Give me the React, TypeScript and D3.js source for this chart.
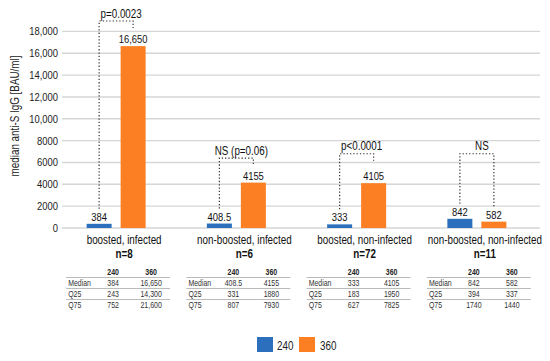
import React from "react";
import * as d3 from "d3";

const categories = ["boosted, infected", "non-boosted, infected", "boosted, non-infected", "non-boosted, non-infected"];
const nLabels = ["n=8", "n=6", "n=72", "n=11"];
const seriesNames = ["240", "360"];
const median240 = [384, 408.5, 333, 842];
const median360 = [16650, 4155, 4105, 582];
const median240Text = ["384", "408.5", "333", "842"];
const median360Text = ["16,650", "4155", "4105", "582"];
const q25_240 = ["243", "331", "183", "394"];
const q25_360 = ["14,300", "1880", "1950", "337"];
const q75_240 = ["752", "807", "627", "1740"];
const q75_360 = ["21,600", "7930", "7825", "1440"];
const pLabels = ["p=0.0023", "NS (p=0.06)", "p<0.0001", "NS"];
const bracketLevels = [18950, 6400, 6800, 6800];
const rightToLabel = [false, false, false, true];
const yTicks = [0, 2000, 4000, 6000, 8000, 10000, 12000, 14000, 16000, 18000];
const yTitle = "median anti-S IgG [BAU/ml]";

const BLUE = "#2b6fbd";
const ORANGE = "#fd7f23";
const FONT = "'Liberation Sans', Arial, sans-serif";
const NARROW = 0.82;

type TProps = {
  x: number;
  y: number;
  size: number;
  anchor?: "start" | "middle" | "end";
  bold?: boolean;
  fill?: string;
  rotate?: number;
  dy?: string;
  children: React.ReactNode;
};

function NText({ x, y, size, anchor = "start", bold, fill = "#111", rotate, dy, children }: TProps) {
  const tr = rotate ? `translate(${x},${y}) rotate(${rotate}) scale(${NARROW},1)` : `translate(${x},${y}) scale(${NARROW},1)`;
  return (
    <text transform={tr} dy={dy} textAnchor={anchor} fontSize={size} fontWeight={bold ? "bold" : "normal"} fill={fill}>
      {children}
    </text>
  );
}

export default function App() {
  const W = 550, H = 361;
  const y = d3.scaleLinear().domain([0, 18000]).range([228, 31.4]);
  const x = d3.scaleBand<string>().domain(categories).range([56, 537]);
  const inner = d3.scaleBand<string>().domain(seriesNames).range([0, 59]).paddingInner(9 / 34);
  const fmt = (v: number) => (v >= 10000 ? d3.format(",")(v) : String(v));
  const colors = [BLUE, ORANGE];

  return (
    <div style={{ position: "absolute", left: 0, top: 0 }}>
      <svg width={W} height={H} style={{ display: "block", fontFamily: FONT }}>
        <rect width={W} height={H} fill="#fff" />
        {yTicks.map((t) => (
          <g key={t}>
            <line x1={62} x2={540} y1={y(t)} y2={y(t)} stroke="#d6d6d6" strokeWidth={1.4} />
            <NText x={58} y={y(t)} dy="0.35em" anchor="end" size={11.5} fill="#222">{fmt(t)}</NText>
          </g>
        ))}
        <NText x={19} y={116} rotate={-90} anchor="middle" size={12} fill="#222">{yTitle}</NText>
        {categories.map((c, i) => {
          const c0 = (x(c) as number) + x.bandwidth() / 2;
          const gx = c0 - 29.5;
          const vals = [median240[i], median360[i]];
          const txts = [median240Text[i], median360Text[i]];
          const bx = seriesNames.map((s) => gx + (inner(s) as number));
          const bw = inner.bandwidth();
          const labelBase = vals.map((v) => y(v) - 3);
          const by = y(bracketLevels[i]);
          const lx = bx[0] + bw / 2;
          const rx = bx[1] + bw / 2;
          const rEnd = rightToLabel[i] ? labelBase[1] - 11 : by + 7;
          const tl = c0 - 50;
          const rowsY = [275, 286, 297, 308];
          return (
            <g key={c}>
              {vals.map((v, k) => (
                <rect key={k} x={bx[k]} y={y(v)} width={bw} height={y(0) - y(v)} fill={colors[k]} />
              ))}
              {txts.map((t, k) => (
                <NText key={k} x={bx[k] + bw / 2} y={labelBase[k]} anchor="middle" size={11.5}>{t}</NText>
              ))}
              <path
                d={`M${lx},${labelBase[0] - 12}V${by}H${rx}V${rEnd}`}
                fill="none"
                stroke="#333"
                strokeWidth={1.2}
                strokeDasharray="1.3,2"
              />
              <NText x={(lx + rx) / 2 + 5} y={by - 3.5} anchor="middle" size={12}>{pLabels[i]}</NText>
              <NText x={c0 + 8} y={244} anchor="middle" size={12}>{c}</NText>
              <NText x={c0 + 8} y={258} anchor="middle" size={12} bold>{nLabels[i]}</NText>
              <NText x={tl + 47} y={rowsY[0]} anchor="middle" size={8.5} bold fill="#222">{seriesNames[0]}</NText>
              <NText x={tl + 85} y={rowsY[0]} anchor="middle" size={8.5} bold fill="#222">{seriesNames[1]}</NText>
              {[
                ["Median", median240Text[i], median360Text[i]],
                ["Q25", q25_240[i], q25_360[i]],
                ["Q75", q75_240[i], q75_360[i]],
              ].map((row, r) => (
                <g key={r}>
                  <NText x={tl + 2} y={rowsY[r + 1]} size={8.5} fill="#333">{row[0]}</NText>
                  <NText x={tl + 47} y={rowsY[r + 1]} anchor="middle" size={8.5} fill="#333">{row[1]}</NText>
                  <NText x={tl + 85} y={rowsY[r + 1]} anchor="middle" size={8.5} fill="#333">{row[2]}</NText>
                </g>
              ))}
              {[277.5, 288.5, 299.5].map((ly) => (
                <line key={ly} x1={tl} x2={tl + 104} y1={ly} y2={ly} stroke="#bbb" strokeWidth={1} />
              ))}
            </g>
          );
        })}
        {seriesNames.map((s, k) => (
          <g key={s}>
            <rect x={257 + k * 42} y={337} width={16} height={15} fill={colors[k]} />
            <NText x={277 + k * 43} y={349.5} size={12} fill="#222">{s}</NText>
          </g>
        ))}
      </svg>
    </div>
  );
}
